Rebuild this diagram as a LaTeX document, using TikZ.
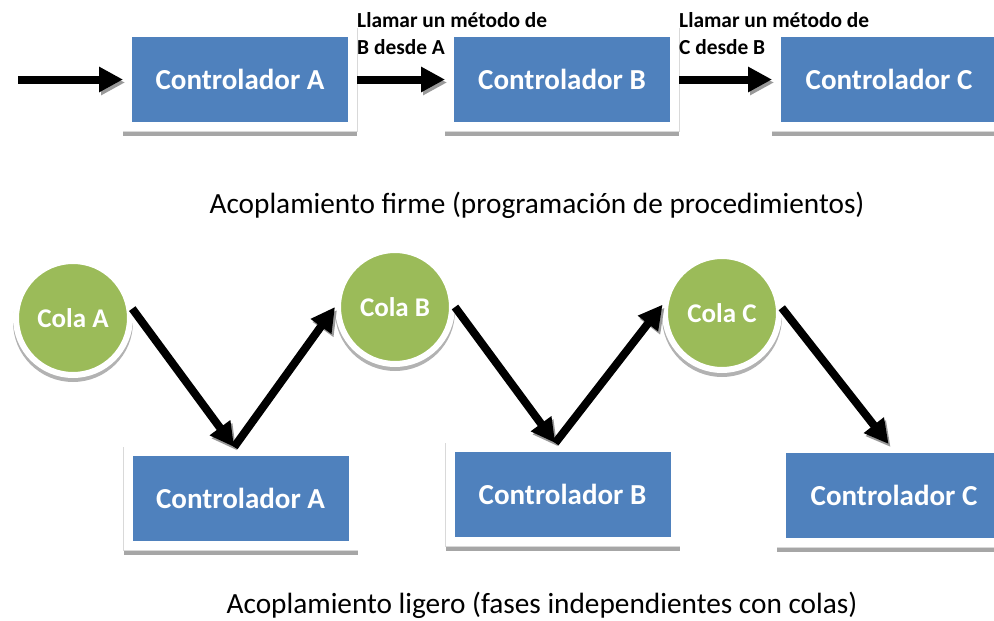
\documentclass[tikz,border=0pt]{standalone}
\usepackage{fontspec}
\setmainfont{Carlito}
\usepackage{tikz}
\usetikzlibrary{arrows.meta}
\definecolor{ctrlblue}{HTML}{4F81BD}
\definecolor{colagreen}{HTML}{9BBB59}
\tikzset{
    ctrl/.style={rectangle, fill=ctrlblue, draw=white, line width=9pt,
        minimum width=225pt, minimum height=94pt, inner sep=0pt,
        text=white, font=\bfseries\fontsize{29}{33}\selectfont,
        preaction={draw=black!35, transform canvas={yshift=-5pt}},
        preaction={draw=black!15, line width=10pt}},
    cola/.style={circle, fill=colagreen, draw=white, line width=6pt,
        minimum size=114pt, inner sep=0pt,
        text=white, font=\bfseries\fontsize{27}{31}\selectfont,
        preaction={draw=black!30, fill=black!30, transform canvas={yshift=-4pt}}},
    flow/.style={line width=8pt, -{Triangle[width=24pt,length=24pt]},
        preaction={draw=black!40, transform canvas={shift={(2pt,-3pt)}}}},
    lbl/.style={align=left, inner sep=0pt, font=\bfseries\fontsize{21.4}{27}\selectfont},
    caption/.style={inner sep=0pt, font=\fontsize{29.3}{33}\selectfont}
}
\begin{document}
\begin{tikzpicture}[x=1pt, y=-1pt]
        \useasboundingbox (0, 0) rectangle (994, 621);
        % acoplamiento firme
        \node[ctrl] (firmeA) at (240, 79.5) {Controlador A};
        \node[ctrl] (firmeB) at (562, 79.5) {Controlador B};
        \node[ctrl] (firmeC) at (889, 79.5) {Controlador C};
        \coordinate (entrada) at (18, 79.5);
        \draw[flow] (entrada) -- (firmeA);
        \draw[flow] (firmeA) -- (firmeB);
        \draw[flow] (firmeB) -- (firmeC);
        \node[lbl, anchor=west] (llamarAB) at (357, 33.5) {Llamar un método de\\B desde A};
        \node[lbl, anchor=west] (llamarBC) at (679, 33.5) {Llamar un método de\\C desde B};
        \node[caption] (firme) at (537, 205) {Acoplamiento firme (programación de procedimientos)};
        % acoplamiento ligero
        \node[cola] (colaA) at ( 73, 318) {Cola A};
        \node[cola] (colaB) at (395, 307) {Cola B};
        \node[cola] (colaC) at (722, 313) {Cola C};
        \node[ctrl] (ligeroA) at (240.5, 498.5) {Controlador A};
        \node[ctrl] (ligeroB) at (562.5, 494.5) {Controlador B};
        \node[ctrl] (ligeroC) at (894, 495.5) {Controlador C};
        \draw[flow] (colaA.9) -- (ligeroA.97);
        \draw[flow] (ligeroA.97) -- (colaB.west);
        \draw[flow] (colaB.east) -- (ligeroB.98);
        \draw[flow] (ligeroB.98) -- (colaC.172);
        \draw[flow] (colaC.5) -- (ligeroC.96);
        \node[caption] (ligero) at (542, 605) {Acoplamiento ligero (fases independientes con colas)};
        %
\end{tikzpicture}
\end{document}
